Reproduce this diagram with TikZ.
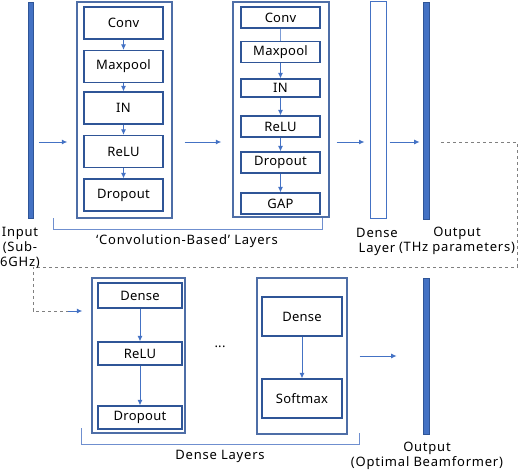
\documentclass[tikz,border=0pt]{standalone}
\usepackage{fontspec}
\setmainfont{Noto Sans}
\usepackage{tikz}
\usetikzlibrary{%
	arrows.meta,
	positioning,% wg. " of "
	calc
}
\definecolor{boxblue}{HTML}{2F5597}
\definecolor{flowblue}{HTML}{4472C4}
\definecolor{brace}{HTML}{6F8FCF}
\definecolor{dashgray}{HTML}{808080}
\tikzstyle{layer} = [draw = boxblue, line width = 1.1pt, inner sep = 0pt, minimum width = 79pt]
\tikzstyle{block} = [draw = boxblue!85, line width = 1.3pt, inner sep = 0pt]
\tikzstyle{bar} = [fill = flowblue, draw = boxblue, line width = 0.6pt, inner sep = 0pt, minimum width = 5pt]
\tikzstyle{flow} = [draw = flowblue, line width = 1pt, -{Latex[length=5.5pt,width=5pt]}]
\tikzstyle{label} = [align = center, font = \fontsize{13}{15}\selectfont\addfontfeatures{LetterSpace=6}]

\begin{document}
\begin{tikzpicture}[x=1pt,y=-1pt,font=\fontsize{13}{15}\selectfont\addfontfeatures{LetterSpace=2}]
	\useasboundingbox (0,0) rectangle (520,472);
	
	% bars and outer blocks
	\node[bar, minimum height = 216pt] (inbar) at (31,110) {};
	\node[block, minimum width = 95pt, minimum height = 216pt] (convA) at (124.5,110) {};
	\node[block, minimum width = 96pt, minimum height = 215pt] (convB) at (281,109.5) {};
	\node[draw = flowblue, line width = 1pt, inner sep = 0pt, minimum width = 16pt, minimum height = 217pt] (denseL) at (378,109.5) {};
	\node[bar, minimum width = 6pt, minimum height = 217pt] (thzbar) at (426,110.5) {};
	\node[block, minimum width = 93pt, minimum height = 155pt] (denseA) at (138.5,355.5) {};
	\node[block, minimum width = 90pt, minimum height = 156pt] (denseB) at (302,356) {};
	\node[bar, minimum width = 6pt, minimum height = 156pt] (beambar) at (426,356) {};
	
	% layers of the first convolution block
	\foreach \y/\name/\txt in {23/a1/Conv, 66.5/a2/Maxpool, 108/a3/IN, 151.5/a4/ReLU, 195/a5/Dropout}
	\node[layer, minimum height = 32pt] (\name) at (123.5,\y) {\txt};
	
	% layers of the second convolution block
	\foreach \y/\h/\name/\txt in {17.5/21/b1/Conv, 52/21/b2/Maxpool, 88/18/b3/IN, 126.5/21/b4/ReLU, 162.5/21/b5/Dropout, 203.5/21/b6/GAP}
	\node[layer, minimum height = \h pt] (\name) at (280.5,\y) {\txt};
	
	% dense blocks
	\foreach \y/\h/\name/\txt in {295.5/25/c1/Dense, 353.5/23/c2/ReLU, 417.5/23/c3/Dropout}
	\node[layer, minimum width = 84pt, minimum height = \h pt] (\name) at (140,\y) {\txt};
	\foreach \y/\name/\txt in {316.5/d1/Dense, 398.5/d2/Softmax}
	\node[layer, minimum width = 80pt, minimum height = 39pt] (\name) at (302,\y) {\txt};
	
	\node (dots) at (220,347) {...};
	
	% arrows inside the blocks
	\foreach \source/\dest in {a1/a2, a2/a3, a3/a4, a4/a5, b2/b3, b3/b4, b4/b5, b5/b6, c1/c2, c2/c3, d1/d2}
	\path[flow] (\source) -- (\dest);
	\draw[flowblue!70, line width = 0.8pt] (b1) -- (b2);
	
	% arrows between the blocks
	\coordinate (row) at (0,142);
	\coordinate (lowrow) at (0,311);
	\path[flow, shorten < = 5pt, shorten > = 9pt] (inbar.east |- row) -- (convA.west |- row);
	\path[flow, shorten < = 12pt, shorten > = 11pt] (convA.east |- row) -- (convB.west |- row);
	\path[flow, shorten < = 7pt, shorten > = 5pt] (convB.east |- row) -- (denseL.west |- row);
	\path[flow, shorten < = 3pt, shorten > = 3pt] (denseL.east |- row) -- (thzbar.west |- row);
	\path[flow, shorten < = 12pt, shorten > = 26pt] (denseB.east |- 0,356) -- (beambar.west |- 0,356);
	
	% dashed link from the THz output to the dense layers
	\coordinate (turnA) at (517,142);
	\coordinate (turnB) at (517,267);
	\coordinate (turnC) at (33,267);
	\coordinate (turnD) at (33,311);
	\coordinate (dashEnd) at (68,311);
	\draw[dashgray, dashed, line width = 0.9pt, shorten < = 12pt] (thzbar.east |- row) -- (turnA) -- (turnB) -- (turnC) -- (turnD) -- (dashEnd);
	\path[flow, shorten > = 9pt] (dashEnd) -- (denseA.west |- lowrow);
	
	% brackets under the layer groups
	\draw[brace, line width = 0.8pt] (53,218) -- (53,229) -- (322,229) -- (322,218);
	\draw[brace, line width = 0.8pt] (81,428) -- (81,444) -- (359,444) -- (359,433);
	
	% texts
	\node[label] (convtxt) at (187,241) {`Convolution-Based' Layers};
	\node[label] (densetxt) at (220,456) {Dense Layers};
	\node[label] (intxt) at (20,248) {Input\\(Sub-\\6GHz)};
	\node[label] (dltxt) at (377,242) {Dense\\Layer};
	\node[label] (thztxt) at (457,241) {Output\\(THz parameters)};
	\node[label] (beamtxt) at (427,456) {Output\\(Optimal Beamformer)};
	
\end{tikzpicture}
\end{document}
